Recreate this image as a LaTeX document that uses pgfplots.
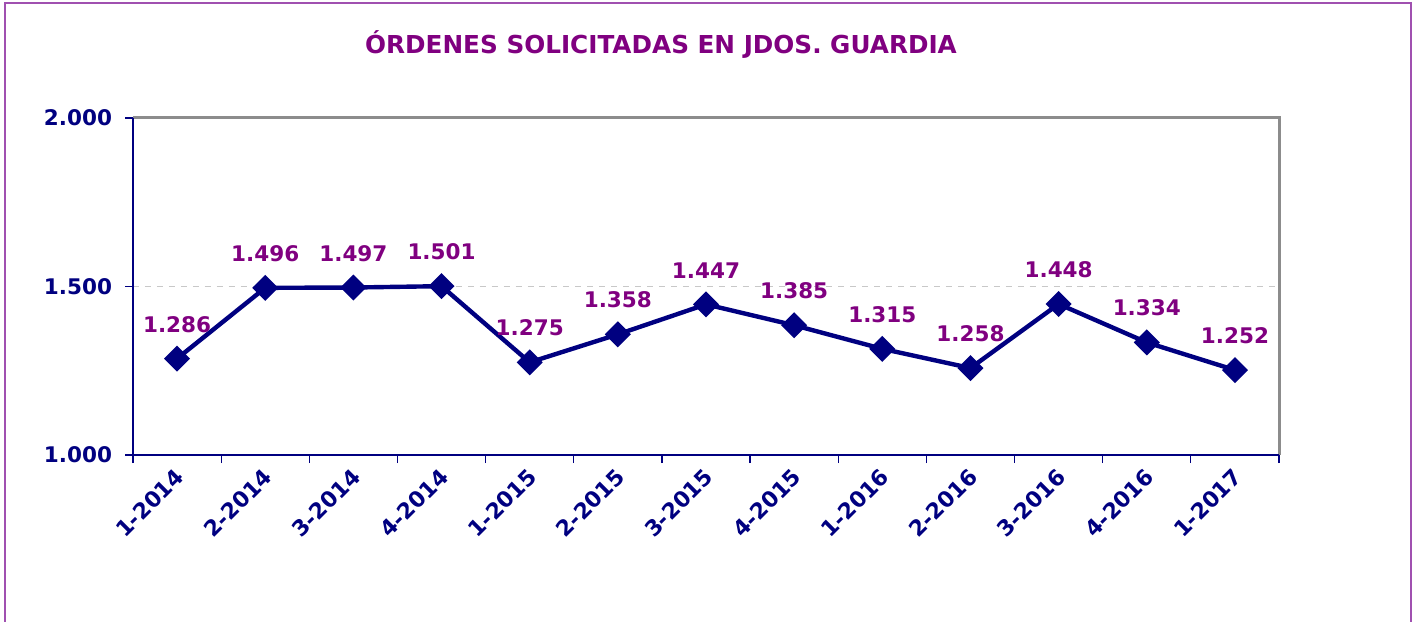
\documentclass[border=0pt]{standalone}
\usepackage{fontspec}
\setmainfont{DejaVu Sans}
\usepackage{pgfplots}
\pgfplotsset{compat=1.18}
\definecolor{navyc}{HTML}{000080}
\definecolor{purp}{HTML}{800080}
\definecolor{framec}{HTML}{A050B0}
\definecolor{grayb}{HTML}{8C8C8C}
\definecolor{gridc}{HTML}{C8C8C8}
\begin{document}
\begin{tikzpicture}[x=1bp,y=1bp]
\useasboundingbox (0,0) rectangle (706.5,310.5);
\draw[framec, line width=0.8bp] (2.5,-20) rectangle (705.5,309);
\node[purp, font=\bfseries\fontsize{12.4}{14}\selectfont, anchor=center] at (330.5,288) {ÓRDENES SOLICITADAS EN JDOS. GUARDIA};
\begin{axis}[
  at={(66.5bp,83bp)}, anchor=south west,
  scale only axis, width=573bp, height=168.5bp,
  xmin=-0.5, xmax=12.5, ymin=1000, ymax=2000,
  axis line style={draw=none},
  xtick={0,...,12},
  xticklabels={1-2014,2-2014,3-2014,4-2014,1-2015,2-2015,3-2015,4-2015,1-2016,2-2016,3-2016,4-2016,1-2017},
  major x tick style={draw=none},
  minor xtick={-0.5,0.5,...,12.5},
  minor tick length=4bp,
  minor x tick style={navyc, line width=0.6bp},
  xtick pos=bottom, ytick pos=left,
  tick align=outside,
  ytick={1000,1500,2000},
  major tick length=4bp,
  major y tick style={navyc, line width=0.6bp},
  scaled y ticks=false,
  /pgf/number format/.cd, 1000 sep={.}, assume math mode=true,
  /pgfplots/.cd,
  yticklabel style={navyc, font=\bfseries\fontsize{10.8}{12}\selectfont, xshift=-3bp},
  xticklabel style={navyc, font=\bfseries\fontsize{11}{12}\selectfont, rotate=45, anchor=east, xshift=1bp, yshift=-4.5bp},
  ymajorgrids=false,
  clip=false,
  nodes near coords,
  every node near coord/.append style={purp, font=\bfseries\fontsize{10.8}{12}\selectfont, anchor=south, inner sep=0pt, yshift=12bp},
]
\draw[gridc, dashed, line width=0.5bp] (axis cs:-0.5,1500) -- (axis cs:12.5,1500);
\draw[grayb, line width=1.5bp] (axis cs:-0.5,2000) -- (axis cs:12.5,2000) -- (axis cs:12.5,1000);
\draw[navyc, line width=0.7bp] (axis cs:-0.5,2000) -- (axis cs:-0.5,1000) -- (axis cs:12.5,1000);
\addplot[navyc, line width=2.2bp, mark=square*, mark size=3.5bp, mark options={rotate=45, solid}] coordinates {
(0,1286) (1,1496) (2,1497) (3,1501) (4,1275) (5,1358) (6,1447) (7,1385) (8,1315) (9,1258) (10,1448) (11,1334) (12,1252)
};
\end{axis}
\end{tikzpicture}
\end{document}
